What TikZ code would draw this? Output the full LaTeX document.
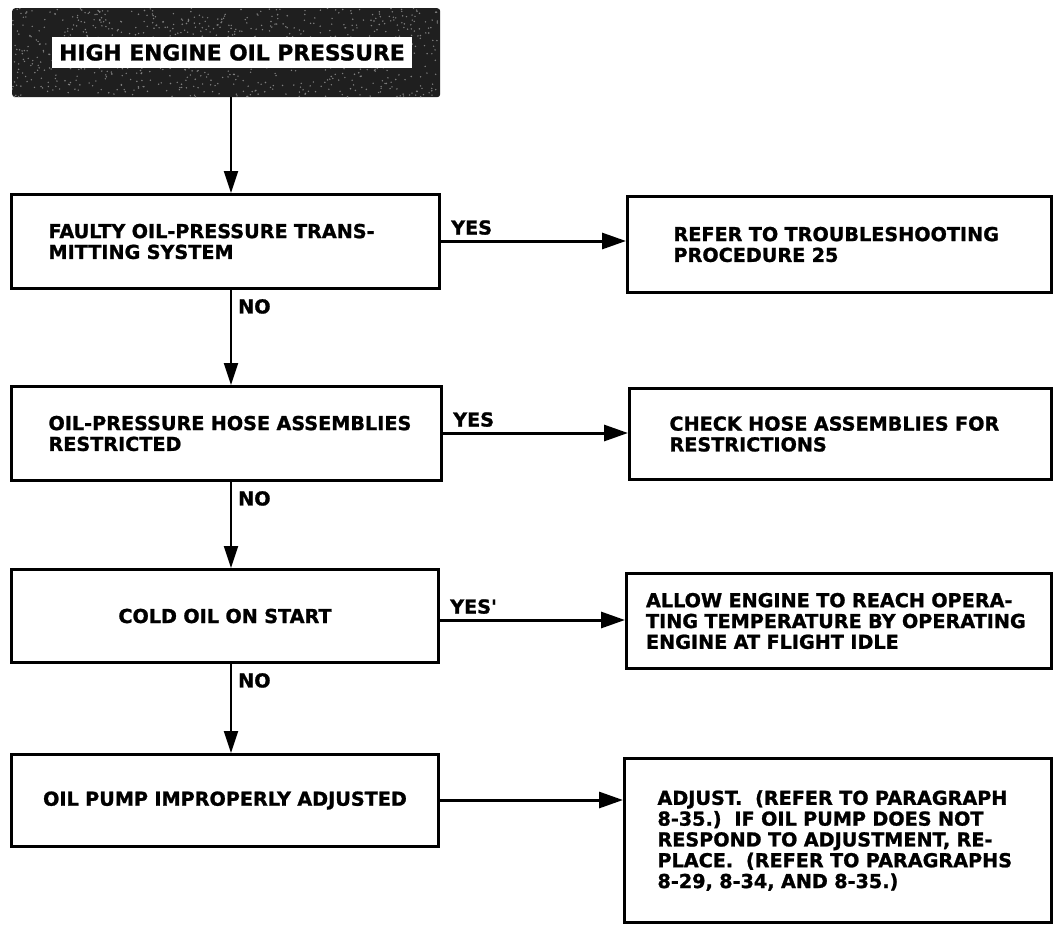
\documentclass[tikz,border=0pt]{standalone}
\usepackage{fontspec}
\newfontfamily\chartfont{DejaVu Sans}[BoldFeatures={FakeBold=1.2}]
\usetikzlibrary{arrows.meta}
\begin{document}
\begin{tikzpicture}[x=1pt,y=-1pt,
  every node/.style={font=\chartfont\bfseries\fontsize{19.2}{20.8}\selectfont},
  stepbox/.style={draw, line width=3pt, anchor=north west, inner ysep=0pt, align=left},
  midbox/.style={draw, line width=3pt, anchor=north west, inner ysep=0pt, align=center},
  vflow/.style={line width=2pt, -{Triangle[length=22pt,width=14pt]}},
  hflow/.style={line width=3pt, -{Triangle[length=24pt,width=16pt]}},
  answer/.style={inner sep=0pt}]
\useasboundingbox (0,0) rectangle (1059,924);

% title block: dark halftone panel with a white label strip
\node[fill=black!88, rounded corners=3pt, anchor=north west,
      minimum width=428, minimum height=89, inner sep=0pt] (t) at (12,8) {};
\begin{scope}
  \clip[rounded corners=3pt] (t.north west) rectangle (t.south east);
  \pgfmathsetseed{11}
  \foreach \i in {1,...,900}{
    \fill[black!50] ({12+rnd*428},{8+rnd*89}) circle (0.8);
  }
\end{scope}
\node[fill=white, minimum width=360, minimum height=31, inner sep=0pt,
      font=\chartfont\bfseries\fontsize{21.8}{24}\selectfont] (tt) at (232,52.5)
      {HIGH ENGINE OIL PRESSURE};

% decision boxes (left column); every line is kept whole in an \mbox
\node[stepbox, minimum width=428, minimum height=94, inner xsep=37, text width=354] (b1) at (10,193)
  {\mbox{FAULTY OIL-PRESSURE TRANS-}\\\mbox{MITTING SYSTEM}};
\node[stepbox, minimum width=430, minimum height=94, inner xsep=37, text width=356] (b2) at (10,385)
  {\mbox{OIL-PRESSURE HOSE ASSEMBLIES}\\\mbox{RESTRICTED}};
\node[midbox, minimum width=427, minimum height=93, inner xsep=10, text width=407] (b3) at (10,568)
  {COLD OIL ON START};
\node[midbox, minimum width=427, minimum height=92, inner xsep=10, text width=407] (b4) at (10,753)
  {OIL PUMP IMPROPERLY ADJUSTED};

% action boxes (right column)
\node[stepbox, minimum width=424, minimum height=96, inner xsep=46, text width=332] (r1) at (626,195)
  {\mbox{REFER TO TROUBLESHOOTING}\\\mbox{PROCEDURE 25}};
\node[stepbox, minimum width=422, minimum height=91, inner xsep=40, text width=342] (r2) at (628,387)
  {\mbox{CHECK HOSE ASSEMBLIES FOR}\\\mbox{RESTRICTIONS}};
\node[stepbox, minimum width=425, minimum height=95, inner xsep=19.5, text width=386] (r3) at (625,572)
  {\mbox{ALLOW ENGINE TO REACH OPERA-}\\\mbox{TING TEMPERATURE BY OPERATING}\\\mbox{ENGINE AT FLIGHT IDLE}};
\node[stepbox, minimum width=427, minimum height=164, inner xsep=33, text width=361] (r4) at (623,757)
  {\mbox{ADJUST.\ \ (REFER TO PARAGRAPH}\\\mbox{8-35.)\ \ IF OIL PUMP DOES NOT}\\\mbox{RESPOND TO ADJUSTMENT, RE-}\\\mbox{PLACE.\ \ (REFER TO PARAGRAPHS}\\\mbox{8-29, 8-34, AND 8-35.)}\\[8pt]};

% line positions of the connectors
\coordinate (xa) at (231,0);
\coordinate (y1) at (0,241);
\coordinate (y2) at (0,433);
\coordinate (y3) at (0,620);
\coordinate (y4) at (0,800);

% vertical "NO" path
\draw[vflow] (t.south -| xa) -- (b1.north -| xa);
\draw[vflow] (b1.south -| xa) -- (b2.north -| xa);
\draw[vflow] (b2.south -| xa) -- (b3.north -| xa);
\draw[vflow] (b3.south -| xa) -- (b4.north -| xa);
\node[answer, anchor=north west] (n1) at ([xshift=7pt,yshift=-9pt]b1.south -| xa) {NO};
\node[answer, anchor=north west] (n2) at ([xshift=7pt,yshift=-9pt]b2.south -| xa) {NO};
\node[answer, anchor=north west] (n3) at ([xshift=7pt,yshift=-9pt]b3.south -| xa) {NO};

% horizontal "YES" paths
\draw[hflow] (b1.east |- y1) -- (r1.west |- y1);
\draw[hflow] (b2.east |- y2) -- (r2.west |- y2);
\draw[hflow] (b3.east |- y3) -- (r3.west |- y3);
\draw[hflow] (b4.east |- y4) -- (r4.west |- y4);
\node[answer, anchor=south west] (s1) at ([xshift=10pt,yshift=6pt]b1.east |- y1) {YES};
\node[answer, anchor=south west] (s2) at ([xshift=10pt,yshift=6pt]b2.east |- y2) {YES};
\node[answer, anchor=south west] (s3) at ([xshift=10pt,yshift=6pt]b3.east |- y3) {YES'};
\end{tikzpicture}
\end{document}
